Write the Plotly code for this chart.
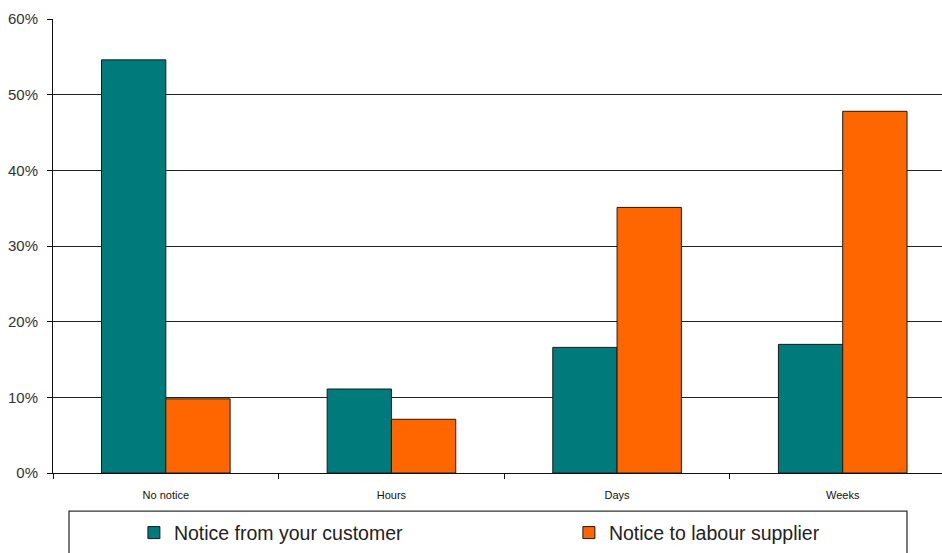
import plotly.graph_objects as go

categories = ["No notice", "Hours", "Days", "Weeks"]
from_customer = [54.6, 11.1, 16.6, 17.0]
to_supplier = [9.8, 7.1, 35.1, 47.8]
y_ticks = [0, 10, 20, 30, 40, 50, 60]
y_tick_labels = ["0%", "10%", "20%", "30%", "40%", "50%", "60%"]

TEAL = "#007A7A"
ORANGE = "#FF6600"

fig = go.Figure()
fig.add_trace(go.Bar(
    x=categories, y=from_customer, name="Notice from your customer",
    marker=dict(color=TEAL, line=dict(color="#1a1a1a", width=1)),
))
fig.add_trace(go.Bar(
    x=categories, y=to_supplier, name="Notice to labour supplier",
    marker=dict(color=ORANGE, line=dict(color="#1a1a1a", width=1)),
))

# legend frame (runs off the bottom of the page)
fig.add_shape(type="rect", xref="paper", yref="paper",
              x0=0.018, x1=0.9606, y0=-0.084, y1=-0.25,
              line=dict(color="#333", width=1.3), fillcolor="rgba(0,0,0,0)")

fig.update_layout(
    width=942, height=553,
    margin=dict(l=53, r=0, t=19, b=80, autoexpand=False),
    paper_bgcolor="white", plot_bgcolor="white",
    barmode="group", bargap=0.43, bargroupgap=0,
    font=dict(family="Liberation Sans, Arial, sans-serif", color="#222"),
    showlegend=True,
    legend=dict(orientation="h", x=0.091, y=-0.132, xanchor="left", yanchor="middle",
                font=dict(size=19.5, color="#222"), entrywidth=390, entrywidthmode="pixels",
                bgcolor="rgba(0,0,0,0)", traceorder="normal"),
    xaxis=dict(
        type="category", range=[-0.5, 3.44],
        showline=True, linecolor="#111", linewidth=1,
        ticks="outside", tickson="boundaries", ticklen=5, tickcolor="#111",
        tickfont=dict(size=11, color="#111"), ticklabelstandoff=12,
        showgrid=False, zeroline=False,
    ),
    yaxis=dict(
        range=[0, 60], tickvals=y_ticks, ticktext=y_tick_labels,
        showline=True, linecolor="#111", linewidth=1,
        ticks="outside", ticklen=5, tickcolor="#111",
        tickfont=dict(size=15, color="#333"), ticklabelstandoff=6,
        showgrid=True, gridcolor="#222", gridwidth=1, zeroline=False,
    ),
)

fig.write_html("out.html")
